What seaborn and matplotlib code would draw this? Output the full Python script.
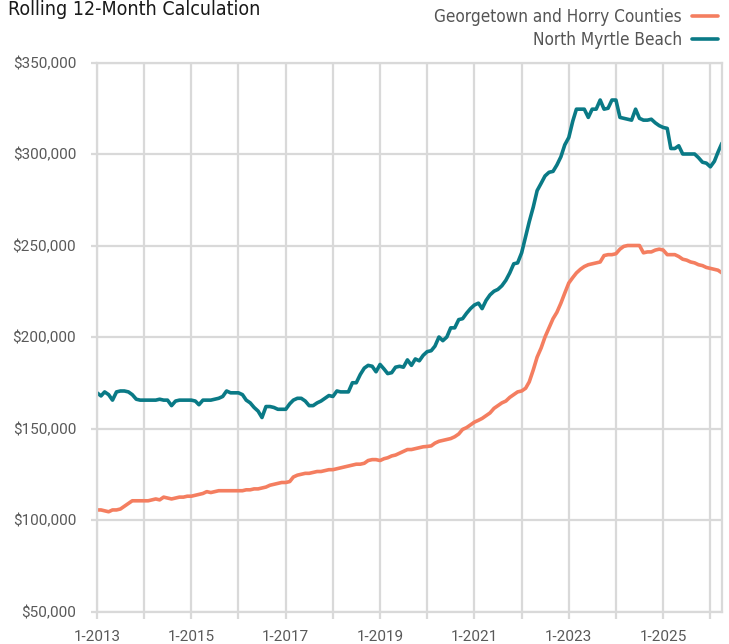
import numpy as np
import pandas as pd
import matplotlib
matplotlib.use("Agg")
import matplotlib.pyplot as plt
import matplotlib.dates as mdates
from matplotlib.ticker import FuncFormatter
from matplotlib import font_manager
import seaborn as sns

# Monthly rolling 12-month median prices, in thousands of dollars, Jan 2013 .. Apr 2026
start_month = "2013-01-01"
end_month = "2026-04-01"

georgetown_horry_k = [
    # 2013
    105.5, 105.5, 105.0, 104.5, 105.5, 105.5, 106.0, 107.5, 109.0, 110.5, 110.5, 110.5,
    # 2014
    110.5, 110.5, 111.0, 111.5, 111.0, 112.5, 112.0, 111.5, 112.0, 112.5, 112.5, 113.0,
    # 2015
    113.0, 113.5, 114.0, 114.5, 115.5, 115.0, 115.5, 116.0, 116.0, 116.0, 116.0, 116.0,
    # 2016
    116.0, 116.0, 116.5, 116.5, 117.0, 117.0, 117.5, 118.0, 119.0, 119.5, 120.0, 120.5,
    # 2017
    120.5, 121.0, 123.5, 124.5, 125.0, 125.5, 125.5, 126.0, 126.5, 126.5, 127.0, 127.5,
    # 2018
    127.5, 128.0, 128.5, 129.0, 129.5, 130.0, 130.5, 130.5, 131.0, 132.5, 133.0, 133.0,
    # 2019
    132.5, 133.5, 134.0, 135.0, 135.5, 136.5, 137.5, 138.5, 138.5, 139.0, 139.5, 140.0,
    # 2020
    140.2, 140.5, 142.0, 143.0, 143.5, 144.0, 144.5, 145.5, 147.0, 149.5, 150.5, 152.0,
    # 2021
    153.5, 154.5, 155.5, 157.0, 158.5, 161.0, 162.5, 164.0, 165.0, 167.0, 168.5, 170.0,
    # 2022
    170.5, 172.0, 175.5, 182.0, 189.0, 194.0, 200.0, 205.0, 210.0, 213.5, 218.5, 224.0,
    # 2023
    229.5, 232.5, 235.0, 237.0, 238.5, 239.5, 240.0, 240.5, 241.0, 244.5, 245.0, 245.0,
    # 2024
    245.5, 248.0, 249.5, 250.0, 250.0, 250.0, 250.0, 246.0, 246.5, 246.5, 247.5, 248.0,
    # 2025
    247.5, 245.0, 245.0, 245.0, 244.0, 242.5, 242.0, 241.0, 240.5, 239.5, 239.0, 238.0,
    # 2026
    237.5, 237.0, 236.5, 235.0,
]

north_myrtle_beach_k = [
    # 2013
    169.5, 167.8, 170.0, 168.5, 165.5, 170.0, 170.5, 170.5, 170.0, 168.5, 166.0, 165.5,
    # 2014
    165.5, 165.5, 165.5, 165.5, 166.0, 165.5, 165.5, 162.5, 165.0, 165.5, 165.5, 165.5,
    # 2015
    165.5, 165.0, 163.0, 165.5, 165.5, 165.5, 166.0, 166.5, 167.5, 170.5, 169.5, 169.5,
    # 2016
    169.5, 168.5, 165.5, 164.0, 161.5, 159.5, 156.0, 162.0, 162.0, 161.5, 160.5, 160.5,
    # 2017
    160.5, 163.5, 165.5, 166.5, 166.5, 165.0, 162.5, 162.5, 164.0, 165.0, 166.5, 168.0,
    # 2018
    167.5, 170.5, 170.0, 170.0, 170.0, 175.0, 175.0, 179.5, 183.0, 184.5, 184.0, 181.0,
    # 2019
    185.0, 182.5, 180.0, 180.5, 183.5, 184.0, 183.5, 187.5, 184.5, 188.0, 187.0, 190.0,
    # 2020
    192.0, 192.5, 195.0, 200.0, 198.0, 200.0, 205.0, 205.0, 209.5, 210.0, 213.0, 215.5,
    # 2021
    217.5, 218.5, 215.5, 220.0, 223.0, 225.0, 226.0, 228.0, 231.0, 235.0, 240.0, 240.5,
    # 2022
    246.0, 255.0, 263.0, 271.0, 280.0, 284.0, 288.0, 290.0, 290.5, 294.0, 298.5, 305.0,
    # 2023
    309.0, 318.0, 324.5, 324.5, 324.5, 320.0, 324.5, 324.5, 329.5, 324.5, 325.0, 329.5,
    # 2024
    329.5, 320.0, 319.5, 319.0, 318.5, 324.5, 319.5, 318.5, 318.5, 319.0, 317.0, 315.5,
    # 2025
    314.5, 314.0, 303.0, 303.0, 304.5, 300.0, 300.0, 300.0, 300.0, 298.0, 295.5, 295.0,
    # 2026
    293.0, 296.0, 301.0, 306.0,
]

series_names = ["Georgetown and Horry Counties", "North Myrtle Beach"]
series_colors = ["#F47E60", "#0A7A86"]
title_text = "Rolling 12-Month Calculation"
y_ticks = [50000, 100000, 150000, 200000, 250000, 300000, 350000]

months = pd.date_range(start_month, end_month, freq="MS")
df = pd.DataFrame({
    "date": list(months) * 2,
    "value": [v * 1000 for v in georgetown_horry_k] + [v * 1000 for v in north_myrtle_beach_k],
    "series": [series_names[0]] * len(months) + [series_names[1]] * len(months),
})

sns.set_theme(style="white")
plt.rcParams["font.family"] = ["Roboto", "DejaVu Sans"]

cond = font_manager.FontProperties(family="DejaVu Sans", stretch="condensed")

W, H = 729, 644
fig = plt.figure(figsize=(W / 100, H / 100), dpi=100)
ax = fig.add_axes([97 / W, 1 - 611.5 / H, (722 - 97) / W, (611.5 - 62.5) / H])

sns.lineplot(data=df, x="date", y="value", hue="series", hue_order=series_names,
             palette=series_colors, linewidth=2.6, ax=ax, legend=True)

grid_c = "#d9d9d9"
ax.set_xlim(months[0], months[-1])
ax.set_ylim(y_ticks[0], y_ticks[-1])
ax.set_yticks(y_ticks)
ax.yaxis.set_major_formatter(FuncFormatter(lambda v, p: f"${v:,.0f}"))
ax.xaxis.set_major_locator(mdates.YearLocator(1))
ax.xaxis.set_major_formatter(FuncFormatter(
    lambda v, p: (f"1-{mdates.num2date(v).year}" if mdates.num2date(v).year % 2 == 1 else "")))
ax.grid(True, color=grid_c, linewidth=1.6)
ax.set_axisbelow(True)
for s in ax.spines.values():
    s.set_color(grid_c)
    s.set_linewidth(1.6)
ax.tick_params(axis="both", which="major", bottom=True, left=True, color=grid_c,
               width=1.6, labelcolor="#595959", labelsize=11)
ax.tick_params(axis="y", length=4, pad=11)
ax.tick_params(axis="x", length=5, pad=8)
ax.set_xlabel("")
ax.set_ylabel("")

leg_font = cond.copy()
leg_font.set_size(12.3)
handles, labels = ax.get_legend_handles_labels()
ax.get_legend().remove()
fig.legend(handles, labels, loc="upper right", bbox_to_anchor=(724.5 / W, 1 - 1 / H),
           frameon=False, markerfirst=False, prop=leg_font, labelcolor="#555555",
           handlelength=1.5, handletextpad=0.6, labelspacing=0.3, borderaxespad=0)

title_font = cond.copy()
title_font.set_size(14)
fig.text(8 / W, 1 - 15 / H, title_text, fontproperties=title_font, color="#1a1a1a",
         ha="left", va="baseline")

fig.savefig("out.png", dpi=100)
